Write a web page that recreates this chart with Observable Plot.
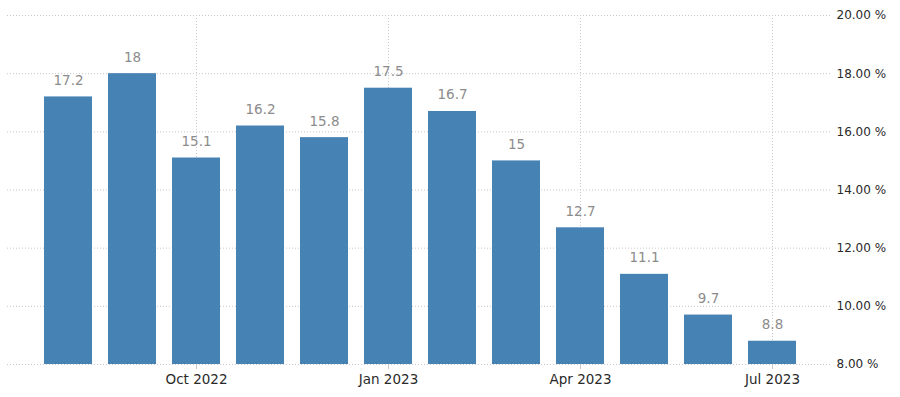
<!DOCTYPE html>
<html>
<head>
<meta charset="utf-8">
<script src="https://cdn.jsdelivr.net/npm/d3@7"></script>
<script src="https://cdn.jsdelivr.net/npm/@observablehq/plot@0.6"></script>
<style>
  html, body { margin: 0; padding: 0; background: white; }
</style>
</head>
<body>
<div id="chart"></div>
<script>
const months = ["Aug 2022","Sep 2022","Oct 2022","Nov 2022","Dec 2022","Jan 2023","Feb 2023","Mar 2023","Apr 2023","May 2023","Jun 2023","Jul 2023"];
const values = [17.2, 18, 15.1, 16.2, 15.8, 17.5, 16.7, 15, 12.7, 11.1, 9.7, 8.8];
const tickLabels = ["Oct 2022","Jan 2023","Apr 2023","Jul 2023"];
const yTicks = [8, 10, 12, 14, 16, 18, 20];

const data = months.map((m, i) => ({month: m, value: values[i]}));

const chart = Plot.plot({
  width: 900,
  height: 397,
  marginLeft: 7,
  marginRight: 70,
  marginTop: 15,
  marginBottom: 33,
  style: {fontFamily: "DejaVu Sans", fontSize: "12px", background: "white"},
  x: {type: "band", domain: months, range: [35, 805], paddingInner: 0.25, paddingOuter: 0.125},
  y: {domain: [8, 20]},
  marks: [
    Plot.ruleY(yTicks, {stroke: "#c8c8c8", strokeDasharray: "1,2"}),
    Plot.ruleX(tickLabels, {x: d => d, stroke: "#c8c8c8", strokeDasharray: "1,2"}),
    Plot.barY(data, {x: "month", y1: 8, y2: "value", fill: "#4682b4"}),
    Plot.text(data, {x: "month", y: "value", text: d => String(d.value), dy: -12, lineAnchor: "bottom", fill: "#8c8c8c", fontSize: 13.5}),
    Plot.axisX({ticks: tickLabels, tickSize: 5, tickPadding: 5, stroke: "#c8c8c8", fill: "#2a2a2a", fontSize: 13.5, label: null}),
    Plot.axisY({anchor: "right", ticks: yTicks, tickSize: 0, tickPadding: 6, tickFormat: d => d.toFixed(2) + " %", fill: "#2a2a2a", label: null})
  ]
});
document.getElementById("chart").appendChild(chart);
</script>
</body>
</html>
